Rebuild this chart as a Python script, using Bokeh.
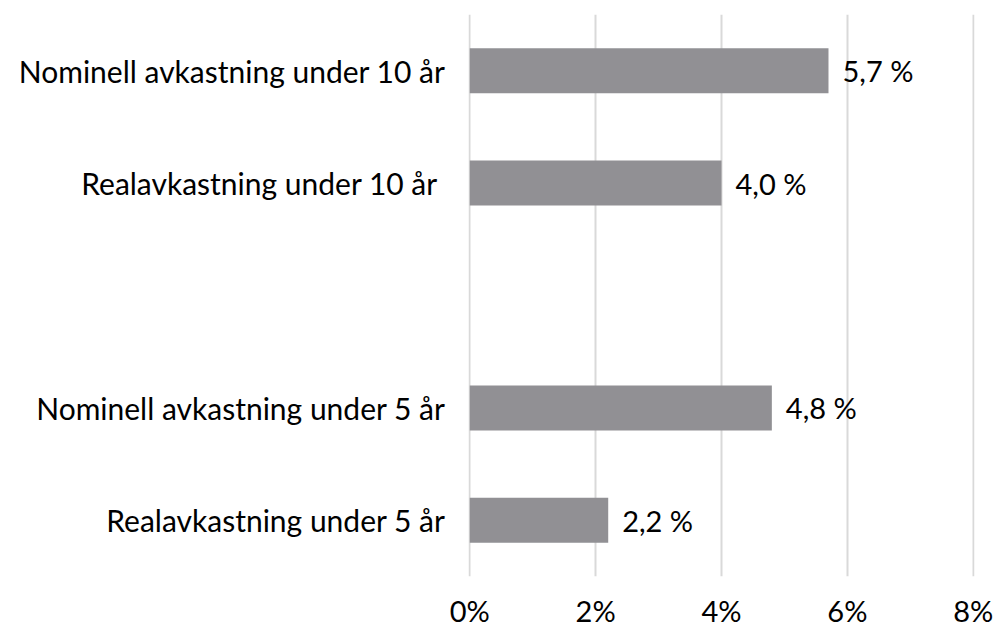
from bokeh.plotting import figure
from bokeh.models import ColumnDataSource, FactorRange, FixedTicker
from bokeh.core.properties import value
from bokeh.embed import file_html
from bokeh.resources import INLINE

categories = ["Nominell avkastning under 10 år", "Realavkastning under 10 år ", " ",
              "Nominell avkastning under 5 år", "Realavkastning under 5 år"]
bar_categories = ["Nominell avkastning under 10 år", "Realavkastning under 10 år ",
                  "Nominell avkastning under 5 år", "Realavkastning under 5 år"]
values = [5.7, 4.0, 4.8, 2.2]
value_labels = ["5,7 %", "4,0 %", "4,8 %", "2,2 %"]
x_ticks = [0, 2, 4, 6, 8]
x_tick_labels = ["0%", "2%", "4%", "6%", "8%"]

FONT = "Lato"
FS = "29px"
FS_CAT = "30px"

src = ColumnDataSource(dict(cat=bar_categories, val=values, lab=value_labels))

p = figure(width=995, height=630, output_backend="svg", toolbar_location=None,
           y_range=FactorRange(factors=list(reversed(categories)), range_padding=0),
           x_range=(-0.02, 8.02))
p.min_border_left = 468
p.min_border_right = 21
p.min_border_top = 14
p.min_border_bottom = 53
p.outline_line_color = None

p.hbar(y="cat", right="val", left=0, height=0.4, source=src,
       fill_color="#919094", line_color=None)
p.text(x="val", y="cat", text="lab", source=src, x_offset=14,
       text_baseline="middle", text_align="left",
       text_font=value(FONT), text_font_size=FS, text_color="#000000")

p.ygrid.grid_line_color = None
p.xgrid.grid_line_color = "#d9d9d9"
p.xgrid.grid_line_width = 2
p.xaxis.ticker = FixedTicker(ticks=x_ticks)
p.xaxis.major_label_overrides = {t: l for t, l in zip(x_ticks, x_tick_labels)}

for ax in (p.xaxis[0], p.yaxis[0]):
    ax.axis_line_color = None
    ax.major_tick_line_color = None
    ax.minor_tick_line_color = None
    ax.major_tick_in = 0
    ax.major_tick_out = 0
    ax.major_label_text_font = FONT
    ax.major_label_text_color = "#000000"
p.xaxis.major_label_text_font_size = FS
p.yaxis.major_label_text_font_size = FS_CAT
p.xaxis.major_label_standoff = 16
p.yaxis.major_label_standoff = 23

open("out.html", "w").write(file_html(p, INLINE))
